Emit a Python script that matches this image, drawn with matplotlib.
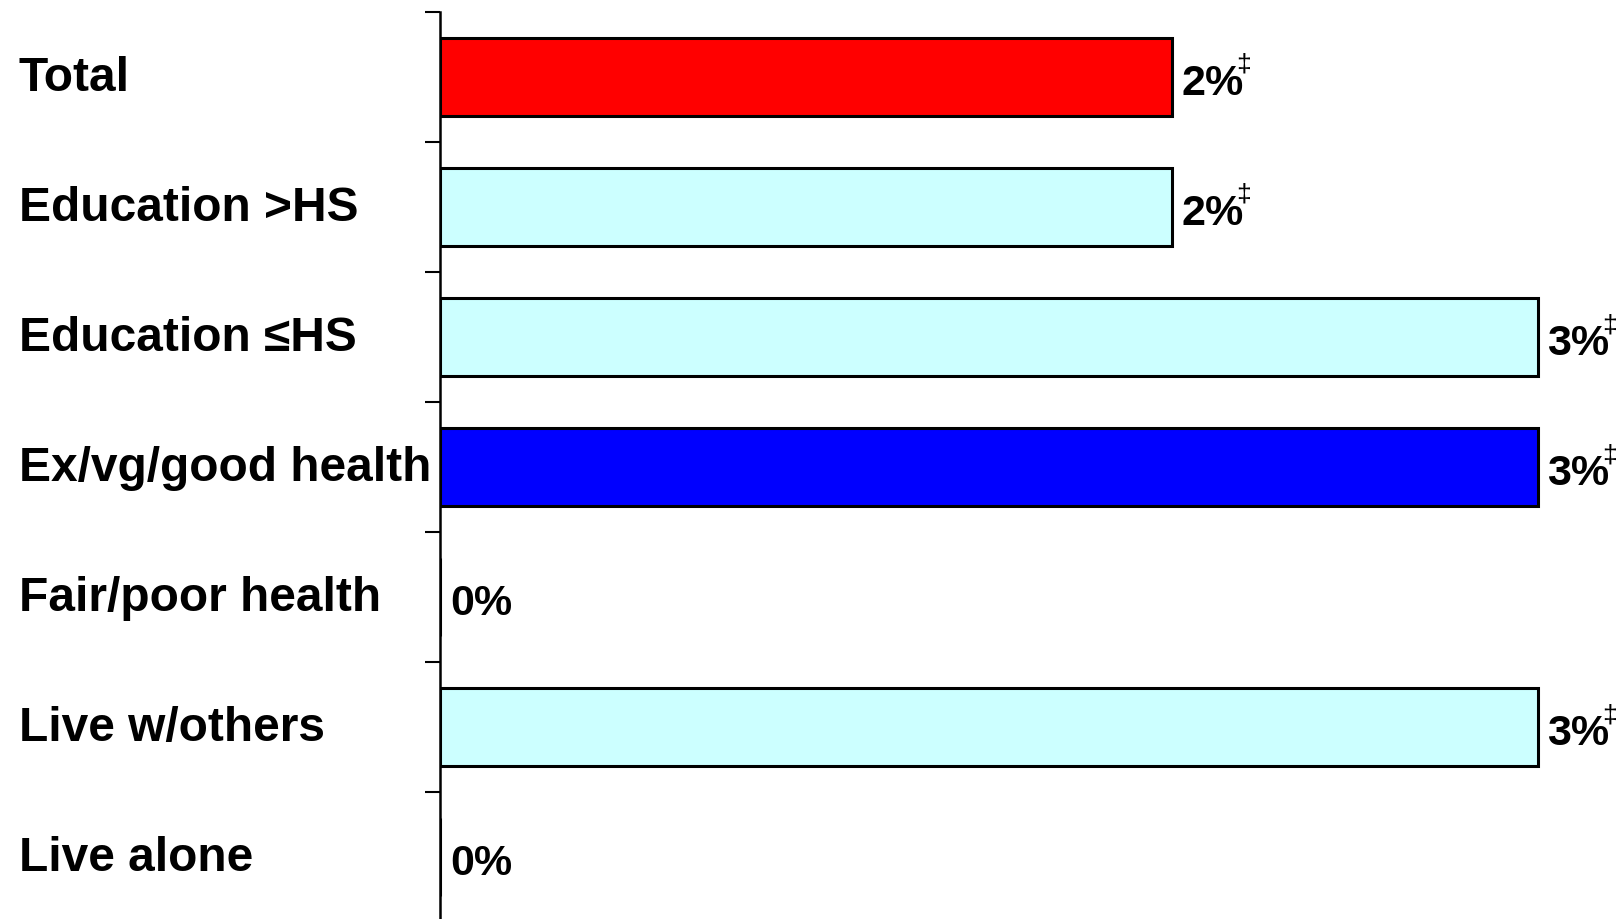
"""Horizontal bar chart of percentages by subgroup."""

import matplotlib

matplotlib.use("Agg")
import matplotlib.pyplot as plt
import matplotlib.transforms as mtransforms

categories = [
    "Total",
    "Education >HS",
    "Education \u2264HS",
    "Ex/vg/good health",
    "Fair/poor health",
    "Live w/others",
    "Live alone",
]
values = [2, 2, 3, 3, 0, 3, 0]
value_labels = ["2%", "2%", "3%", "3%", "0%", "3%", "0%"]
flagged = [True, True, True, True, False, True, False]
bar_colors = ["#FF0000", "#CCFFFF", "#CCFFFF", "#0000FF", "#CCFFFF", "#CCFFFF", "#CCFFFF"]

plt.rcParams["font.family"] = ["Liberation Sans", "DejaVu Sans"]

fig = plt.figure(figsize=(16.18, 9.2), dpi=100)
ax = fig.add_axes([0.272, -0.0035, 0.728, 0.9894])

n = len(categories)
ypos = list(range(n))
ax.barh(ypos, values, height=0.6, color=bar_colors, edgecolor="black", linewidth=2.2)

ax.set_ylim(n - 0.5, -0.5)
ax.set_xlim(0, 3.22)

# ticks sit on the category boundaries
ax.set_yticks([i - 0.5 for i in range(n + 1)])
ax.set_yticklabels([])
ax.tick_params(axis="y", length=11, width=1.5, direction="out")
ax.set_xticks([])
for side in ("top", "right", "bottom"):
    ax.spines[side].set_visible(False)
ax.spines["left"].set_linewidth(1.8)

label_tf = mtransforms.blended_transform_factory(fig.transFigure, ax.transData)
for y, name in zip(ypos, categories):
    ax.text(18.6 / 1618, y + 0.005, name, transform=label_tf, ha="left", va="center",
            fontsize=34.5, fontweight="bold", clip_on=False)

for y, v, lab, flag in zip(ypos, values, value_labels, flagged):
    txt = ax.annotate(lab, xy=(v, y), xytext=(7, -4), textcoords="offset points",
                      ha="left", va="center", fontsize=31, fontweight="bold")
    if flag:
        # dagger sits just above the end of the percent sign
        ax.annotate("\u2021", xy=(1, 1), xycoords=txt, xytext=(0, -1),
                    textcoords="offset points", ha="center", va="center",
                    fontsize=19, annotation_clip=False)

fig.savefig("out.png", dpi=100)
